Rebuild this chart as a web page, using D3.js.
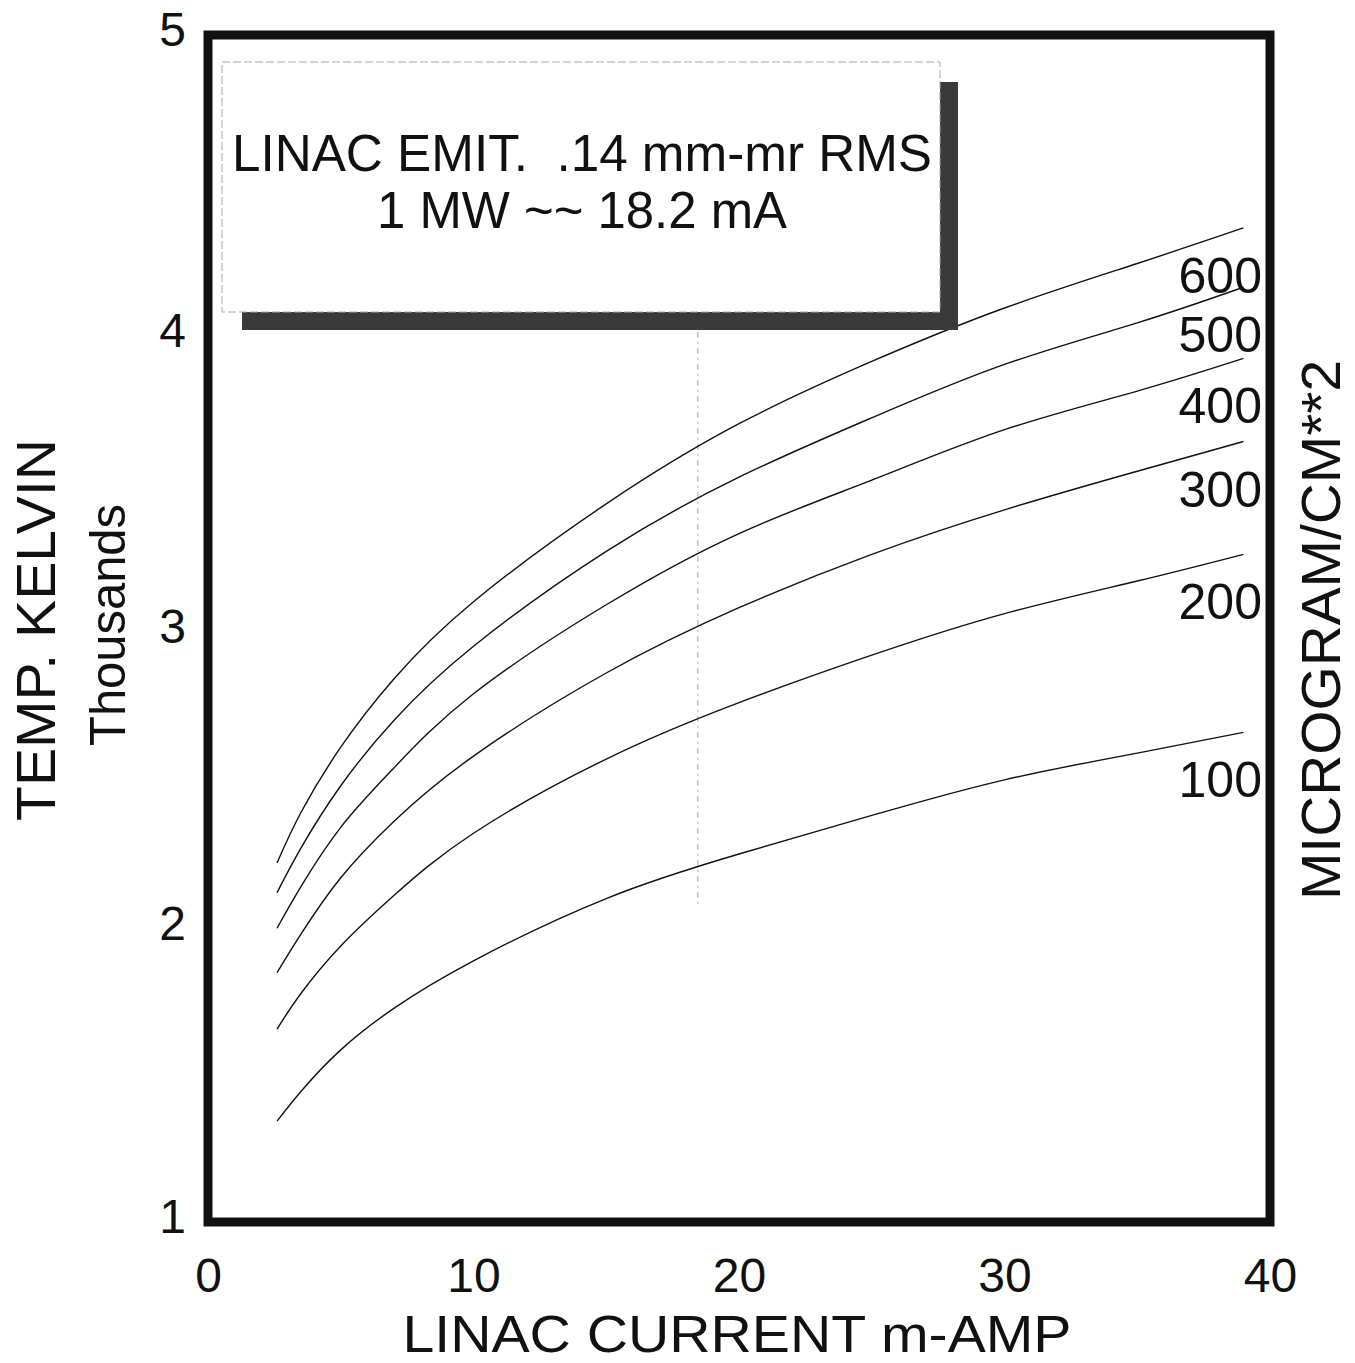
<!DOCTYPE html>
<html>
<head>
<meta charset="utf-8">
<script src="https://cdn.jsdelivr.net/npm/d3@7"></script>
<style>
  body { margin: 0; background: #fff; }
  text { font-family: "Liberation Sans", Arial, sans-serif; fill: #111; }
</style>
</head>
<body>
<div id="app"></div>
<script>
// linac current (mA) at which each curve was read
const current = [2.6, 3.5, 5, 7, 10, 15, 20, 25, 30, 35, 39];

// temperature in thousands of K, one list per target density
const densities = [600, 500, 400, 300, 200, 100];
const temp600 = [2.21, 2.38, 2.60, 2.83, 3.09, 3.42, 3.69, 3.90, 4.08, 4.23, 4.35];
const temp500 = [2.11, 2.26, 2.47, 2.69, 2.94, 3.26, 3.51, 3.71, 3.89, 4.03, 4.15];
const temp400 = [1.99, 2.13, 2.33, 2.53, 2.78, 3.08, 3.32, 3.50, 3.67, 3.80, 3.91];
const temp300 = [1.84, 1.97, 2.16, 2.35, 2.57, 2.85, 3.07, 3.25, 3.40, 3.53, 3.63];
const temp200 = [1.65, 1.77, 1.93, 2.10, 2.31, 2.56, 2.75, 2.91, 3.05, 3.16, 3.25];
const temp100 = [1.34, 1.44, 1.58, 1.72, 1.88, 2.09, 2.24, 2.37, 2.49, 2.58, 2.65];
const temps = [temp600, temp500, temp400, temp300, temp200, temp100];

const xTicks = [0, 10, 20, 30, 40];
const yTicks = [1, 2, 3, 4, 5];
const markerCurrent = 18.45;

const width = 1355;
const height = 1363;

const svg = d3.select('#app').append('svg')
  .attr('width', width)
  .attr('height', height);

const x = d3.scaleLinear().domain([0, 40]).range([208, 1270]);
const y = d3.scaleLinear().domain([1, 5]).range([1222, 35]);

// faint marker line at 1 MW
svg.append('line')
  .attr('x1', x(markerCurrent)).attr('x2', x(markerCurrent))
  .attr('y1', y(4)).attr('y2', y(2.07))
  .attr('stroke', '#aaa')
  .attr('stroke-width', 1)
  .attr('stroke-dasharray', '6 4 2 4');

// curves
const line = d3.line()
  .x((d, i) => x(current[i]))
  .y(d => y(d))
  .curve(d3.curveNatural);

svg.selectAll('.curve').data(temps)
  .enter().append('path')
  .attr('class', 'curve')
  .attr('d', d => line(d))
  .attr('fill', 'none')
  .attr('stroke', '#111')
  .attr('stroke-width', 1.4);

// curve labels just below each curve's end
svg.selectAll('.clabel').data(densities)
  .enter().append('text')
  .attr('class', 'clabel')
  .attr('x', 1262)
  .attr('y', (d, i) => y(temps[i][temps[i].length - 1]) + 48)
  .attr('dominant-baseline', 'central')
  .attr('text-anchor', 'end')
  .attr('font-size', 50)
  .text(d => d);

// note box with drop shadow
const shadow = '#3a3a3a';
svg.append('rect').attr('x', 940).attr('y', 82).attr('width', 18).attr('height', 248).attr('fill', shadow);
svg.append('rect').attr('x', 242).attr('y', 312).attr('width', 716).attr('height', 18).attr('fill', shadow);
svg.append('rect')
  .attr('x', 222).attr('y', 62).attr('width', 718).attr('height', 250)
  .attr('fill', '#fff')
  .attr('stroke', '#aaa')
  .attr('stroke-width', 1)
  .attr('stroke-dasharray', '8 3');

svg.append('text')
  .attr('x', 232).attr('y', 171)
  .attr('font-size', 52)
  .attr('textLength', 700)
  .attr('lengthAdjust', 'spacingAndGlyphs')
  .attr('xml:space', 'preserve')
  .text('LINAC EMIT.  .14 mm-mr RMS');
svg.append('text')
  .attr('x', 377).attr('y', 228)
  .attr('font-size', 52)
  .attr('textLength', 410)
  .attr('lengthAdjust', 'spacingAndGlyphs')
  .text('1 MW ~~ 18.2 mA');

// frame
svg.append('rect')
  .attr('x', x(0)).attr('y', y(5))
  .attr('width', x(40) - x(0)).attr('height', y(1) - y(5))
  .attr('fill', 'none')
  .attr('stroke', '#111')
  .attr('stroke-width', 9);

// axes
const xAxis = svg.append('g')
  .attr('transform', `translate(0,${y(1)})`)
  .call(d3.axisBottom(x).tickValues(xTicks).tickFormat(d3.format('d')).tickSize(0).tickPadding(36));
const yAxis = svg.append('g')
  .attr('transform', `translate(${x(0)},0)`)
  .call(d3.axisLeft(y).tickValues(yTicks).tickFormat(d3.format('d')).tickSize(0).tickPadding(22));

[xAxis, yAxis].forEach(g => {
  g.select('.domain').remove();
  g.selectAll('text')
    .attr('font-size', 48)
    .attr('font-family', '"Liberation Sans", Arial, sans-serif')
    .attr('fill', '#111');
});
yAxis.selectAll('text').attr('dy', '0.3em');
yAxis.selectAll('.tick').filter(d => d === 1 || d === 5).select('text').attr('dy', '0.22em');

// axis titles
svg.append('text')
  .attr('x', 737).attr('y', 1352)
  .attr('text-anchor', 'middle')
  .attr('font-size', 52)
  .attr('textLength', 669)
  .attr('lengthAdjust', 'spacingAndGlyphs')
  .text('LINAC CURRENT m-AMP');

svg.append('text')
  .attr('transform', 'translate(55,630) rotate(-90)')
  .attr('text-anchor', 'middle')
  .attr('font-size', 55)
  .attr('textLength', 382)
  .attr('lengthAdjust', 'spacingAndGlyphs')
  .text('TEMP. KELVIN');
svg.append('text')
  .attr('transform', 'translate(125,625) rotate(-90)')
  .attr('text-anchor', 'middle')
  .attr('font-size', 50)
  .attr('textLength', 242)
  .attr('lengthAdjust', 'spacingAndGlyphs')
  .text('Thousands');

svg.append('text')
  .attr('transform', 'translate(1340,630) rotate(-90)')
  .attr('text-anchor', 'middle')
  .attr('font-size', 55)
  .attr('textLength', 540)
  .attr('lengthAdjust', 'spacingAndGlyphs')
  .text('MICROGRAM/CM**2');
</script>
</body>
</html>
